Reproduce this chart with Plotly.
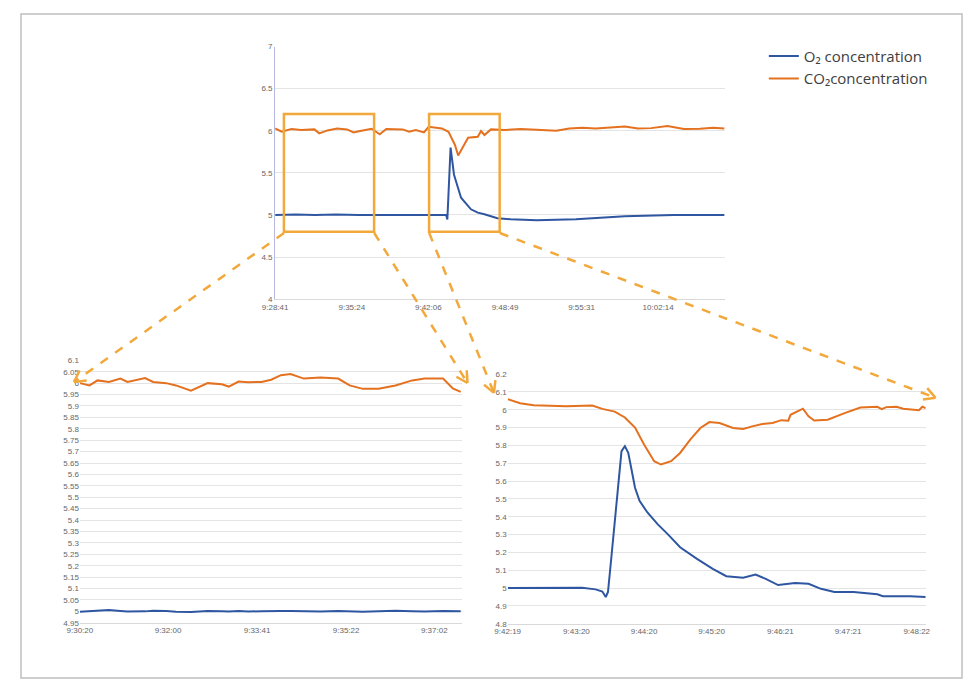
import math
import plotly.graph_objects as go

W, H = 961, 678   # figure size; page body margin of 8px brings it to 977x694
OFF = 8
BLUE = '#2f56a0'
ORANGE = '#e4711f'
BOX = '#f2a83a'
TICK = dict(size=8, color='#666666', family='Liberation Sans')

# ---- overview (top) ----
top_co2_t = ['9:28:41', '9:29:15', '9:30:07', '9:30:58', '9:32:07', '9:32:33', '9:33:16', '9:34:07',
             '9:34:59', '9:35:33', '9:36:08', '9:37:08', '9:37:51', '9:38:25', '9:39:51', '9:40:25',
             '9:41:00', '9:41:43', '9:42:08', '9:43:17', '9:43:52', '9:44:26', '9:44:43', '9:45:09',
             '9:45:35', '9:46:26', '9:46:43', '9:47:01', '9:47:35', '9:48:44', '9:50:10', '9:51:35',
             '9:53:18', '9:54:27', '9:55:36', '9:56:45', '9:57:53', '9:59:19', '10:00:28', '10:01:37',
             '10:03:03', '10:04:29', '10:05:54', '10:07:03', '10:08:03']
top_co2_v = [6.027, 5.988, 6.02, 6.008, 6.016, 5.969, 6.004, 6.027,
             6.016, 5.98, 5.996, 6.024, 5.957, 6.02, 6.016, 5.988,
             6.008, 5.98, 6.047, 6.027, 5.988, 5.831, 5.706, 5.812,
             5.918, 5.929, 5.996, 5.949, 6.016, 6.008, 6.02, 6.012,
             6.0, 6.027, 6.035, 6.027, 6.035, 6.05, 6.027, 6.031,
             6.055, 6.02, 6.024, 6.035, 6.027]
top_o2_t = ['9:28:41', '9:30:30', '9:32:10', '9:34:00', '9:36:00', '9:38:00', '9:40:00', '9:42:00',
            '9:43:40', '9:43:46', '9:44:03', '9:44:21', '9:44:58', '9:45:50', '9:46:26', '9:47:01',
            '9:48:09', '9:49:18', '9:51:35', '9:55:02', '9:59:19', '10:03:36', '10:08:03']
top_o2_v = [5.0, 5.006, 4.998, 5.004, 5.0, 5.002, 4.998, 5.003,
            5.0, 4.945, 5.8, 5.478, 5.204, 5.067, 5.027, 5.008,
            4.961, 4.949, 4.937, 4.949, 4.984, 5.0, 5.0]
top_ticks = ['9:28:41', '9:35:24', '9:42:06', '9:48:49', '9:55:31', '10:02:14']

# ---- zoom 1 (bottom left) ----
z1_t = ['9:30:20', '9:30:31', '9:30:40', '9:30:53', '9:31:06', '9:31:14', '9:31:34', '9:31:43',
        '9:31:58', '9:32:09', '9:32:26', '9:32:45', '9:33:01', '9:33:09', '9:33:20', '9:33:31',
        '9:33:46', '9:33:57', '9:34:08', '9:34:19', '9:34:34', '9:34:53', '9:35:13', '9:35:26',
        '9:35:41', '9:35:59', '9:36:18', '9:36:37', '9:36:51', '9:37:12', '9:37:23', '9:37:32']
z1_co2 = [6.0, 5.99, 6.012, 6.005, 6.02, 6.005, 6.022, 6.005,
          6.0, 5.99, 5.967, 6.0, 5.995, 5.985, 6.007, 6.004,
          6.005, 6.015, 6.035, 6.04, 6.02, 6.025, 6.02, 5.99,
          5.975, 5.975, 5.99, 6.012, 6.02, 6.02, 5.977, 5.962]
z1_o2 = [4.998, 5.0, 5.004, 5.006, 5.002, 4.999, 5.0, 5.003,
         5.002, 4.998, 4.997, 5.002, 5.001, 4.999, 5.002, 4.999,
         5.001, 5.0, 5.002, 5.002, 5.001, 4.999, 5.002, 5.0,
         4.998, 5.0, 5.003, 5.001, 4.999, 5.002, 5.002, 5.0]
z1_ticks = ['9:30:20', '9:32:00', '9:33:41', '9:35:22', '9:37:02']

# ---- zoom 2 (bottom right) ----
z2_co2_t = ['9:42:19', '9:42:30', '9:42:42', '9:43:11', '9:43:34', '9:43:43', '9:43:54', '9:44:03',
            '9:44:12', '9:44:20', '9:44:29', '9:44:35', '9:44:44', '9:44:52', '9:45:01', '9:45:10',
            '9:45:18', '9:45:27', '9:45:39', '9:45:48', '9:45:56', '9:46:05', '9:46:14', '9:46:22',
            '9:46:28', '9:46:30', '9:46:41', '9:46:46', '9:46:51', '9:47:03', '9:47:18', '9:47:32',
            '9:47:47', '9:47:51', '9:47:55', '9:48:04', '9:48:10', '9:48:24', '9:48:27', '9:48:30']
z2_co2_v = [6.06, 6.037, 6.026, 6.02, 6.024, 6.005, 5.99, 5.957,
            5.9, 5.805, 5.712, 5.693, 5.712, 5.758, 5.833, 5.898,
            5.931, 5.926, 5.898, 5.892, 5.907, 5.92, 5.926, 5.942,
            5.939, 5.972, 6.006, 5.963, 5.94, 5.944, 5.981, 6.013,
            6.017, 6.004, 6.015, 6.017, 6.006, 5.998, 6.017, 6.009]
z2_o2_t = ['9:42:19', '9:42:56', '9:43:25', '9:43:37', '9:43:43', '9:43:46', '9:43:48', '9:43:51',
           '9:43:56', '9:44:00', '9:44:03', '9:44:06', '9:44:12', '9:44:16', '9:44:23', '9:44:32',
           '9:44:41', '9:44:52', '9:45:07', '9:45:21', '9:45:33', '9:45:48', '9:45:59', '9:46:08',
           '9:46:19', '9:46:34', '9:46:46', '9:46:57', '9:47:09', '9:47:26', '9:47:47', '9:47:52',
           '9:48:16', '9:48:30']
z2_o2_v = [5.0, 5.0, 5.002, 4.993, 4.981, 4.95, 4.978, 5.173,
           5.508, 5.768, 5.796, 5.759, 5.563, 5.489, 5.424, 5.359,
           5.303, 5.229, 5.164, 5.108, 5.067, 5.058, 5.076, 5.052,
           5.017, 5.028, 5.024, 4.996, 4.978, 4.978, 4.965, 4.955,
           4.955, 4.95]
z2_ticks = ['9:42:19', '9:43:20', '9:44:20', '9:45:20', '9:46:21', '9:47:21', '9:48:22']

# zoom windows marked on the overview
boxes = [('9:29:27', '9:37:21'), ('9:42:10', '9:48:21')]


def ts(s):
    h, m, sec = s.split(':')
    return f'2020-01-01 {int(h):02d}:{m}:{sec}'


def tl(lst):
    return [ts(s) for s in lst]


# screen pixel -> paper fraction
def fx(x):
    return (x - OFF) / W


def fy(y):
    return 1 - (y - OFF) / H


fig = go.Figure()
fig.add_trace(go.Scatter(x=tl(top_o2_t), y=top_o2_v, mode='lines', line=dict(color=BLUE, width=2),
                         name='O₂ concentration', xaxis='x', yaxis='y'))
fig.add_trace(go.Scatter(x=tl(top_co2_t), y=top_co2_v, mode='lines', line=dict(color=ORANGE, width=2),
                         name='CO₂concentration', xaxis='x', yaxis='y'))
fig.add_trace(go.Scatter(x=tl(z1_t), y=z1_o2, mode='lines', line=dict(color=BLUE, width=2),
                         showlegend=False, xaxis='x2', yaxis='y2'))
fig.add_trace(go.Scatter(x=tl(z1_t), y=z1_co2, mode='lines', line=dict(color=ORANGE, width=2),
                         showlegend=False, xaxis='x2', yaxis='y2'))
fig.add_trace(go.Scatter(x=tl(z2_o2_t), y=z2_o2_v, mode='lines', line=dict(color=BLUE, width=2),
                         showlegend=False, xaxis='x3', yaxis='y3'))
fig.add_trace(go.Scatter(x=tl(z2_co2_t), y=z2_co2_v, mode='lines', line=dict(color=ORANGE, width=2),
                         showlegend=False, xaxis='x3', yaxis='y3'))

grid = dict(showgrid=True, gridcolor='#e4e4e4', gridwidth=1, zeroline=False, tickfont=TICK, ticks='')


def xax(x0, x1, anchor, r, ticks):
    return dict(domain=[fx(x0), fx(x1)], anchor=anchor, type='date', range=[ts(r[0]), ts(r[1])],
                tickvals=tl(ticks), ticktext=ticks, showgrid=False, showline=True,
                linecolor='#d9d9d9', tickfont=TICK, ticks='')


shapes = [dict(type='rect', xref='paper', yref='paper', x0=fx(8), x1=fx(967), y0=fy(683), y1=fy(10),
               line=dict(color='#bfbfbf', width=1.5))]
for a, b in boxes:
    shapes.append(dict(type='rect', xref='x', yref='y', x0=ts(a), x1=ts(b), y0=4.8, y1=6.2,
                       line=dict(color=BOX, width=2.5)))

arrows = [((276, 232), (62, 383)), ((368, 232), (463, 384)),
          ((424, 232), (490, 394)), ((496, 232), (940, 399))]
for (x0, y0), (x1, y1) in arrows:
    shapes.append(dict(type='line', xref='paper', yref='paper', x0=fx(x0), y0=fy(y0), x1=fx(x1), y1=fy(y1),
                       line=dict(color=BOX, width=2.5, dash='dash')))
    ang = math.atan2(y1 - y0, x1 - x0)
    for d in (0.5, -0.5):
        hx = x1 - 13 * math.cos(ang + d)
        hy = y1 - 13 * math.sin(ang + d)
        shapes.append(dict(type='line', xref='paper', yref='paper', x0=fx(hx), y0=fy(hy), x1=fx(x1), y1=fy(y1),
                           line=dict(color=BOX, width=2.5)))

fig.update_layout(
    width=W, height=H, margin=dict(l=0, r=0, t=0, b=0),
    paper_bgcolor='white', plot_bgcolor='white',
    font=dict(family='Liberation Sans'),
    xaxis=xax(267, 725, 'y', ('9:28:41', '10:08:03'), top_ticks),
    yaxis=dict(domain=[fy(299), fy(43)], anchor='x', range=[4, 7], dtick=0.5,
               showline=True, linecolor='#b7b7e0', **grid),
    xaxis2=xax(68, 457, 'y2', ('9:30:20', '9:37:33'), z1_ticks),
    yaxis2=dict(domain=[fy(627), fy(361)], anchor='x2', range=[4.95, 6.1], dtick=0.05, **grid),
    xaxis3=xax(504, 930, 'y3', ('9:42:19', '9:48:30'), z2_ticks),
    yaxis3=dict(domain=[fy(628), fy(375)], anchor='x3', range=[4.8, 6.2], dtick=0.1, **grid),
    legend=dict(x=fx(765), y=fy(36), xanchor='left', yanchor='top', bgcolor='rgba(0,0,0,0)',
                font=dict(size=15, color='#404040', family='Open Sans'), tracegroupgap=0),
    shapes=shapes, showlegend=True,
)

fig.write_html('out.html')
